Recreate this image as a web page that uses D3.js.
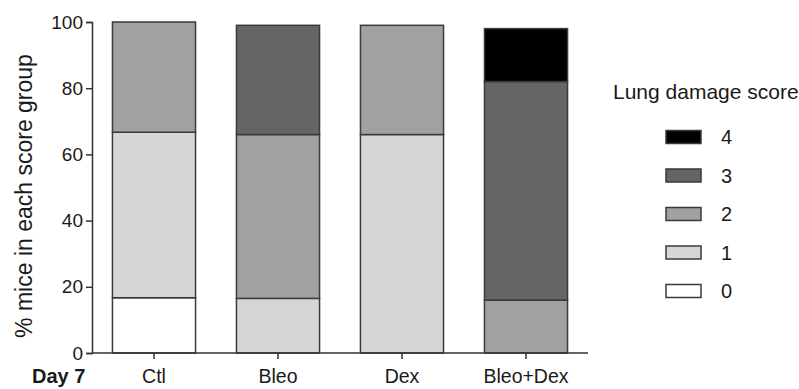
<!DOCTYPE html>
<html>
<head>
<meta charset="utf-8">
<script src="https://cdn.jsdelivr.net/npm/d3@7/dist/d3.min.js"></script>
<style>
  html, body { margin: 0; padding: 0; background: #fff; }
  svg { display: block; font-family: Arial, "Liberation Sans", sans-serif; }
</style>
</head>
<body>
<svg id="chart" width="799" height="389"></svg>
<script>
// Treatment groups on day 7
const groups = ["Ctl", "Bleo", "Dex", "Bleo+Dex"];
// Lung damage scores, stacked bottom to top
const scores = ["0", "1", "2", "3", "4"];
// % of mice in each score group, one array per score
const score0 = [16.7, 0, 0, 0];
const score1 = [50, 16.5, 66, 0];
const score2 = [33.3, 49.5, 33, 16];
const score3 = [0, 33, 0, 66];
const score4 = [0, 0, 0, 16];
const yTicks = [0, 20, 40, 60, 80, 100];

const fills = { "0": "#ffffff", "1": "#d6d6d6", "2": "#a1a1a1", "3": "#656565", "4": "#000000" };
const ink = "#1a1a1a";
const fontFamily = "Arial, 'Liberation Sans', sans-serif";

const rows = groups.map((g, i) => ({
  group: g,
  "0": score0[i], "1": score1[i], "2": score2[i], "3": score3[i], "4": score4[i]
}));
const series = d3.stack().keys(scores)(rows);

const svg = d3.select("#chart");
const x = d3.scaleBand().domain(groups).range([92, 588]).paddingInner(0.33).paddingOuter(0.165);
const y = d3.scaleLinear().domain([0, 100]).range([353, 22]);

// stacked bars
svg.append("g").selectAll("g")
  .data(series)
  .join("g")
  .attr("fill", d => fills[d.key])
  .selectAll("rect")
  .data(d => d.filter(p => p[1] - p[0] > 0))
  .join("rect")
  .attr("x", d => x(d.data.group))
  .attr("width", x.bandwidth())
  .attr("y", d => y(d[1]))
  .attr("height", d => y(d[0]) - y(d[1]))
  .attr("stroke", "#3a3a3a")
  .attr("stroke-width", 1.5);

// y axis
const yAxis = svg.append("g")
  .attr("transform", "translate(92,0)")
  .call(d3.axisLeft(y).tickValues(yTicks).tickSize(6).tickPadding(3));
yAxis.select(".domain").attr("stroke", "#333").attr("stroke-width", 1.5);
yAxis.selectAll(".tick line").attr("stroke", "#333").attr("stroke-width", 1.5);
yAxis.selectAll("text").attr("font-size", 19).attr("fill", ink).attr("font-family", fontFamily);

// x axis
const xAxis = svg.append("g")
  .attr("transform", "translate(0,353)")
  .call(d3.axisBottom(x).tickSize(6).tickSizeOuter(0));
xAxis.select(".domain").attr("stroke", "#333").attr("stroke-width", 1.5)
  .attr("d", "M92,0H588");
xAxis.selectAll(".tick line").attr("stroke", "#333").attr("stroke-width", 1.5);
xAxis.selectAll("text")
  .attr("y", 30).attr("dy", null)
  .attr("font-size", 19.5).attr("fill", ink).attr("font-family", fontFamily);

// day label
svg.append("text")
  .attr("x", 32).attr("y", 383)
  .attr("font-size", 20).attr("font-weight", "bold").attr("fill", ink)
  .text("Day 7");

// y axis title
svg.append("text")
  .attr("transform", "translate(32,196) rotate(-90)")
  .attr("text-anchor", "middle")
  .attr("font-size", 23).attr("fill", ink)
  .text("% mice in each score group");

// legend
svg.append("text")
  .attr("x", 613).attr("y", 99)
  .attr("font-size", 21).attr("fill", ink)
  .text("Lung damage score");

const legendOrder = scores.slice().reverse();
const ly = d3.scalePoint().domain(legendOrder).range([137, 291]);
const leg = svg.append("g").selectAll("g")
  .data(legendOrder)
  .join("g")
  .attr("transform", d => `translate(0,${ly(d)})`);
leg.append("rect")
  .attr("x", 666).attr("y", -6.5).attr("width", 35).attr("height", 13)
  .attr("fill", d => fills[d]).attr("stroke", "#3a3a3a").attr("stroke-width", 1.5);
leg.append("text")
  .attr("x", 721).attr("y", 0).attr("dy", "0.35em")
  .attr("font-size", 20).attr("fill", ink)
  .text(d => d);
</script>
</body>
</html>
